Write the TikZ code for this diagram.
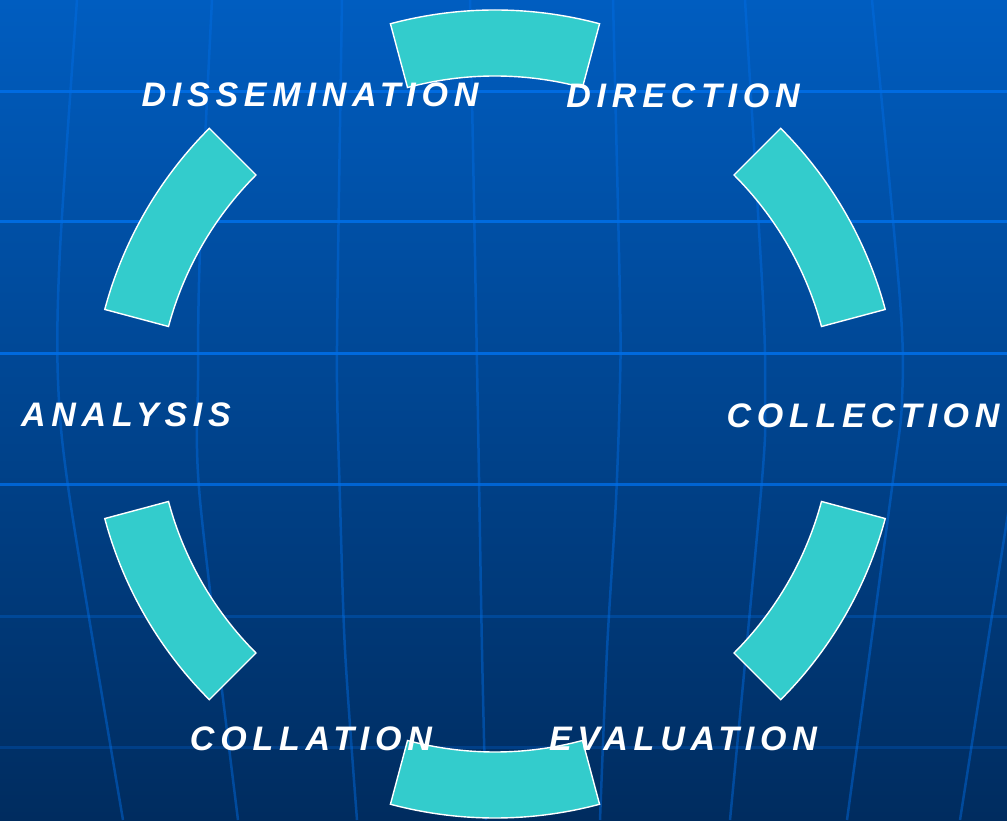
\documentclass[tikz,border=0pt]{standalone}
\usepackage{fontspec}
\setmainfont{Liberation Sans}
\newfontfamily\stagefont[LetterSpace=17]{Liberation Sans}
\definecolor{bgtop}{RGB}{0,93,192}
\definecolor{bgbottom}{RGB}{0,44,95}
\definecolor{gridblue}{RGB}{0,110,230}
\definecolor{segteal}{RGB}{51,204,204}

\begin{document}
\begin{tikzpicture}[x=1pt,y=1pt,
    segment/.style={fill=segteal, draw=white, line width=1.4pt, line join=miter},
    stage/.style={text=white, font=\stagefont\bfseries\itshape\fontsize{34}{38}\selectfont, anchor=base, inner sep=0pt},
    parallel/.style={gridblue, line width=3pt},
    meridian/.style={gridblue, opacity=0.45, line width=2.5pt}]
    \useasboundingbox (0,0) rectangle (1007,820);

    % background
    \shade[top color=bgtop, bottom color=bgbottom] (0,0) rectangle (1007,820);

    % globe lines
    \begin{scope}
        \clip (0,0) rectangle (1007,820);
        \draw[parallel, opacity=0.9] (0,728) -- (1007,728);
        \draw[parallel, opacity=0.9] (0,598) -- (1007,598);
        \draw[parallel, opacity=0.9] (0,466) -- (1007,466);
        \draw[parallel, opacity=0.8] (0,335) -- (1007,335);
        \draw[parallel, opacity=0.3] (0,203) -- (1007,203);
        \draw[parallel, opacity=0.25] (0,73) -- (1007,73);

        \draw[meridian] plot[smooth] coordinates {(77,820) (60,570) (58,440) (70,320) (123,0)};
        \draw[meridian] plot[smooth] coordinates {(212,820) (200,570) (198,440) (200,320) (238,0)};
        \draw[meridian] plot[smooth] coordinates {(342,820) (338,560) (337,437) (340,320) (345,170) (357,0)};
        \draw[meridian] plot[smooth] coordinates {(470,820) (473,670) (478,400) (482,170) (486,0)};
        \draw[meridian] plot[smooth] coordinates {(613,820) (620,520) (620,437) (616,320) (607,170) (600,0)};
        \draw[meridian] plot[smooth] coordinates {(745,820) (763,520) (765,420) (762,340) (730,0)};
        \draw[meridian] plot[smooth] coordinates {(872,820) (900,520) (902,420) (893,340) (847,0)};
        \draw[meridian] plot[smooth] coordinates {(1030,440) (1007,300) (960,0)};
    \end{scope}

    % ring of segments
    \begin{scope}[shift={(495,406)}]
        \foreach \a in {75,15,-45,-105,-165,135}
            \draw[segment] (\a:404) arc[start angle=\a, delta angle=30, radius=404pt]
                -- (\a+30:338) arc[start angle=\a+30, delta angle=-30, radius=338pt] -- cycle;
    \end{scope}

    % stage names
    \node[stage] (dissem) at (310,713) {DISSEMINATION};
    \node[stage] (direct) at (683,712) {DIRECTION};
    \node[stage] (analys) at (126,393) {ANALYSIS};
    \node[stage] (collect) at (863,392) {COLLECTION};
    \node[stage] (collat) at (311,70) {COLLATION};
    \node[stage] (evaluat) at (683,70) {EVALUATION};
\end{tikzpicture}
\end{document}
